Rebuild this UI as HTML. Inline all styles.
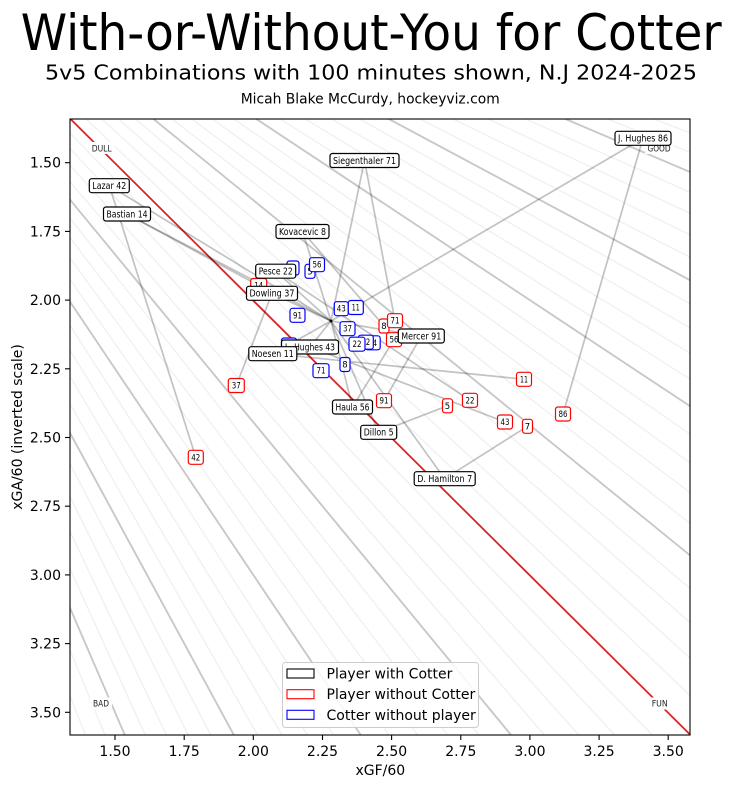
<!DOCTYPE html>
<html><head><meta charset="utf-8"><style>
html,body{margin:0;padding:0;background:#fff;width:732px;height:788px;overflow:hidden;}
svg{display:block;font-family:"DejaVu Sans","Liberation Sans",sans-serif;}
.f line{vector-effect:non-scaling-stroke;stroke:#f0f0f0;stroke-width:1.3;}
.g line{vector-effect:non-scaling-stroke;stroke:#c8c8c8;stroke-width:1.9;}
.c line{stroke:rgba(0,0,0,0.24);stroke-width:1.7;}
.bk rect{fill:#fff;stroke:#000;stroke-width:1.2;}
.rd rect{fill:#fff;stroke:#ff0000;stroke-width:1.2;}
.bl rect{fill:#fff;stroke:#0000ff;stroke-width:1.2;}
.lb text{font-size:9.5px;text-anchor:middle;fill:#000;}
.n text{font-size:8.5px;text-anchor:middle;fill:#000;}
.tk text{font-size:14px;fill:#000;}
</style></head><body>
<svg width="732" height="788" viewBox="0 0 732 788" xmlns="http://www.w3.org/2000/svg">
<rect width="732" height="788" fill="#fff"/>
<text x="20.7" y="50" font-size="50" textLength="701" lengthAdjust="spacingAndGlyphs">With-or-Without-You for Cotter</text>
<text x="45" y="79.3" font-size="20" textLength="652" lengthAdjust="spacingAndGlyphs">5v5 Combinations with 100 minutes shown, N.J 2024-2025</text>
<text x="240.7" y="103.3" font-size="13.9" textLength="259" lengthAdjust="spacingAndGlyphs">Micah Blake McCurdy, hockeyviz.com</text>
<defs><clipPath id="ax"><rect x="70" y="119" width="620" height="616"/></clipPath></defs>
<g clip-path="url(#ax)">
<g transform="matrix(276.6 0 0 274.8 -299.9 -249.5)">
<g class="f">
<line x1="0.467" y1="1.33" x2="1.265" y2="3.6"/>
<line x1="0.492" y1="1.33" x2="1.332" y2="3.6"/>
<line x1="0.517" y1="1.33" x2="1.400" y2="3.6"/>
<line x1="0.543" y1="1.33" x2="1.471" y2="3.6"/>
<line x1="0.598" y1="1.33" x2="1.617" y2="3.6"/>
<line x1="0.626" y1="1.33" x2="1.694" y2="3.6"/>
<line x1="0.655" y1="1.33" x2="1.773" y2="3.6"/>
<line x1="0.685" y1="1.33" x2="1.855" y2="3.6"/>
<line x1="0.748" y1="1.33" x2="2.025" y2="3.6"/>
<line x1="0.781" y1="1.33" x2="2.114" y2="3.6"/>
<line x1="0.815" y1="1.33" x2="2.206" y2="3.6"/>
<line x1="0.850" y1="1.33" x2="2.301" y2="3.6"/>
<line x1="0.924" y1="1.33" x2="2.502" y2="3.6"/>
<line x1="0.963" y1="1.33" x2="2.607" y2="3.6"/>
<line x1="1.003" y1="1.33" x2="2.716" y2="3.6"/>
<line x1="1.045" y1="1.33" x2="2.829" y2="3.6"/>
<line x1="1.133" y1="1.33" x2="3.067" y2="3.6"/>
<line x1="1.179" y1="1.33" x2="3.192" y2="3.6"/>
<line x1="1.228" y1="1.33" x2="3.323" y2="3.6"/>
<line x1="1.278" y1="1.33" x2="3.459" y2="3.6"/>
<line y1="0.467" x1="1.33" y2="1.265" x2="3.6"/>
<line y1="0.492" x1="1.33" y2="1.332" x2="3.6"/>
<line y1="0.517" x1="1.33" y2="1.400" x2="3.6"/>
<line y1="0.543" x1="1.33" y2="1.471" x2="3.6"/>
<line y1="0.598" x1="1.33" y2="1.617" x2="3.6"/>
<line y1="0.626" x1="1.33" y2="1.694" x2="3.6"/>
<line y1="0.655" x1="1.33" y2="1.773" x2="3.6"/>
<line y1="0.685" x1="1.33" y2="1.855" x2="3.6"/>
<line y1="0.748" x1="1.33" y2="2.025" x2="3.6"/>
<line y1="0.781" x1="1.33" y2="2.114" x2="3.6"/>
<line y1="0.815" x1="1.33" y2="2.206" x2="3.6"/>
<line y1="0.850" x1="1.33" y2="2.301" x2="3.6"/>
<line y1="0.924" x1="1.33" y2="2.502" x2="3.6"/>
<line y1="0.963" x1="1.33" y2="2.607" x2="3.6"/>
<line y1="1.003" x1="1.33" y2="2.716" x2="3.6"/>
<line y1="1.045" x1="1.33" y2="2.829" x2="3.6"/>
<line y1="1.133" x1="1.33" y2="3.067" x2="3.6"/>
<line y1="1.179" x1="1.33" y2="3.192" x2="3.6"/>
<line y1="1.228" x1="1.33" y2="3.323" x2="3.6"/>
<line y1="1.278" x1="1.33" y2="3.459" x2="3.6"/>
</g>
<g class="g">
<line x1="0.570" y1="1.33" x2="1.543" y2="3.6"/>
<line x1="0.716" y1="1.33" x2="1.939" y2="3.6"/>
<line x1="0.887" y1="1.33" x2="2.400" y2="3.6"/>
<line x1="1.088" y1="1.33" x2="2.946" y2="3.6"/>
<line y1="1.088" x1="1.33" y2="2.946" x2="3.6"/>
<line y1="0.887" x1="1.33" y2="2.400" x2="3.6"/>
<line y1="0.716" x1="1.33" y2="1.939" x2="3.6"/>
<line y1="0.570" x1="1.33" y2="1.543" x2="3.6"/>
</g>
</g>
<line x1="70" y1="118.5" x2="690" y2="734.5" stroke="#d62728" stroke-width="1.8"/>
<g class="c">
<line x1="643" y1="138.3" x2="331" y2="321"/><line x1="643" y1="138.3" x2="563" y2="414"/>
<line x1="364.5" y1="160.5" x2="331" y2="321"/><line x1="364.5" y1="160.5" x2="395" y2="320.7"/>
<line x1="109.3" y1="185.7" x2="331" y2="321"/><line x1="109.3" y1="185.7" x2="195.8" y2="457.3"/>
<line x1="127" y1="214" x2="331" y2="321"/><line x1="127" y1="214" x2="258.7" y2="285.5"/>
<line x1="302.5" y1="231.5" x2="331" y2="321"/><line x1="302.5" y1="231.5" x2="384" y2="326"/>
<line x1="275.7" y1="271.2" x2="331" y2="321"/><line x1="275.7" y1="271.2" x2="470" y2="400.3"/>
<line x1="272" y1="293.3" x2="331" y2="321"/><line x1="272" y1="293.3" x2="236.3" y2="385.5"/>
<line x1="310" y1="347" x2="331" y2="321"/><line x1="310" y1="347" x2="505" y2="422"/>
<line x1="272.8" y1="353.7" x2="331" y2="321"/><line x1="272.8" y1="353.7" x2="524" y2="379.3"/>
<line x1="421.3" y1="336" x2="331" y2="321"/><line x1="421.3" y1="336" x2="384" y2="400.7"/>
<line x1="352.5" y1="407" x2="331" y2="321"/><line x1="352.5" y1="407" x2="394" y2="339.7"/>
<line x1="378.7" y1="432.3" x2="331" y2="321"/><line x1="378.7" y1="432.3" x2="447.5" y2="405.8"/>
<line x1="444.7" y1="478.7" x2="331" y2="321"/><line x1="444.7" y1="478.7" x2="527.5" y2="426.3"/>
</g>
<circle cx="331" cy="321" r="1.4" fill="#000"/>
<g font-size="9" fill="#222" text-anchor="middle">
<rect x="90" y="142" width="24" height="12" fill="#fff"/><text x="101.7" y="151.7" textLength="20" lengthAdjust="spacingAndGlyphs">DULL</text>
<rect x="645" y="142" width="28" height="12" fill="#fff"/><text x="659" y="151.7" textLength="23" lengthAdjust="spacingAndGlyphs">GOOD</text>
<rect x="90" y="697.5" width="22" height="12" fill="#fff"/><text x="101" y="706.7" textLength="16" lengthAdjust="spacingAndGlyphs">BAD</text>
<rect x="648.5" y="697.5" width="22" height="12" fill="#fff"/><text x="659.7" y="706.7" textLength="16" lengthAdjust="spacingAndGlyphs">FUN</text>
</g>
</g>
<g class="rd n">
<rect x="250.7" y="278.5" width="16" height="14" rx="2.5"/><text x="258.7" y="288.5" textLength="9" lengthAdjust="spacingAndGlyphs">14</text>
<rect x="228.3" y="378.5" width="16" height="14" rx="2.5"/><text x="236.3" y="388.5" textLength="9" lengthAdjust="spacingAndGlyphs">37</text>
<rect x="188.3" y="450.3" width="15" height="14" rx="2.5"/><text x="195.8" y="460.3" textLength="9" lengthAdjust="spacingAndGlyphs">42</text>
<rect x="379" y="319" width="10" height="14" rx="2.5"/><text x="384" y="329">8</text>
<rect x="387.5" y="313.7" width="15" height="14" rx="2.5"/><text x="395" y="323.7" textLength="9" lengthAdjust="spacingAndGlyphs">71</text>
<rect x="386.5" y="332.7" width="15" height="14" rx="2.5"/><text x="394" y="342.7" textLength="9" lengthAdjust="spacingAndGlyphs">56</text>
<rect x="376.5" y="393.7" width="15" height="14" rx="2.5"/><text x="384" y="403.7" textLength="9" lengthAdjust="spacingAndGlyphs">91</text>
<rect x="442.5" y="398.8" width="10" height="14" rx="2.5"/><text x="447.5" y="408.8">5</text>
<rect x="462.5" y="393.3" width="15" height="14" rx="2.5"/><text x="470" y="403.3" textLength="9" lengthAdjust="spacingAndGlyphs">22</text>
<rect x="516.5" y="372.3" width="15" height="14" rx="2.5"/><text x="524" y="382.3" textLength="8" lengthAdjust="spacingAndGlyphs">11</text>
<rect x="497.5" y="415" width="15" height="14" rx="2.5"/><text x="505" y="425" textLength="9" lengthAdjust="spacingAndGlyphs">43</text>
<rect x="522.5" y="419.3" width="10" height="14" rx="2.5"/><text x="527.5" y="429.3">7</text>
<rect x="555.5" y="407" width="15" height="14" rx="2.5"/><text x="563" y="417" textLength="9" lengthAdjust="spacingAndGlyphs">86</text>
</g>
<g class="bl n">
<rect x="287" y="261" width="12" height="14" rx="2.5"/><text x="293" y="271">7</text>
<rect x="305" y="264.3" width="10" height="14" rx="2.5"/><text x="310" y="274.3">5</text>
<rect x="309.5" y="257.7" width="15" height="14" rx="2.5"/><text x="317" y="267.7" textLength="9" lengthAdjust="spacingAndGlyphs">56</text>
<rect x="290" y="308.3" width="15" height="14" rx="2.5"/><text x="297.5" y="318.3" textLength="9" lengthAdjust="spacingAndGlyphs">91</text>
<rect x="334.3" y="301.7" width="14" height="14" rx="2.5"/><text x="341.3" y="311.7" textLength="9" lengthAdjust="spacingAndGlyphs">43</text>
<rect x="348.3" y="300.5" width="15" height="14" rx="2.5"/><text x="355.8" y="310.5" textLength="8" lengthAdjust="spacingAndGlyphs">11</text>
<rect x="340" y="321.7" width="15" height="14" rx="2.5"/><text x="347.5" y="331.7" textLength="9" lengthAdjust="spacingAndGlyphs">37</text>
<rect x="365.2" y="335.8" width="15" height="14" rx="2.5"/><text x="372.7" y="345.8" textLength="9" lengthAdjust="spacingAndGlyphs">14</text>
<rect x="358.3" y="335.2" width="15" height="14" rx="2.5"/><text x="365.8" y="345.2" textLength="9" lengthAdjust="spacingAndGlyphs">42</text>
<rect x="349" y="337.2" width="16" height="14" rx="2.5"/><text x="357" y="347.2" textLength="9" lengthAdjust="spacingAndGlyphs">22</text>
<rect x="281.5" y="338" width="15" height="14" rx="2.5"/><text x="289" y="348" textLength="9" lengthAdjust="spacingAndGlyphs">86</text>
<rect x="313" y="363.7" width="16" height="14" rx="2.5"/><text x="321" y="373.7" textLength="9" lengthAdjust="spacingAndGlyphs">71</text>
<rect x="340" y="357.5" width="10" height="14" rx="2.5"/><text x="345" y="367.5">8</text>
</g>
<g class="bk lb">
<rect x="615" y="131.3" width="56" height="14" rx="2.5"/><text x="643" y="141.6" textLength="50" lengthAdjust="spacingAndGlyphs">J. Hughes 86</text>
<rect x="330" y="153.5" width="69" height="14" rx="2.5"/><text x="364.5" y="163.8" textLength="63" lengthAdjust="spacingAndGlyphs">Siegenthaler 71</text>
<rect x="89.3" y="178.7" width="40" height="14" rx="2.5"/><text x="109.3" y="189" textLength="34" lengthAdjust="spacingAndGlyphs">Lazar 42</text>
<rect x="103.5" y="207" width="47" height="14" rx="2.5"/><text x="127" y="217.3" textLength="41" lengthAdjust="spacingAndGlyphs">Bastian 14</text>
<rect x="276" y="224.5" width="53" height="14" rx="2.5"/><text x="302.5" y="234.8" textLength="47" lengthAdjust="spacingAndGlyphs">Kovacevic 8</text>
<rect x="255.7" y="264.2" width="40" height="14" rx="2.5"/><text x="275.7" y="274.5" textLength="34" lengthAdjust="spacingAndGlyphs">Pesce 22</text>
<rect x="246.5" y="286.3" width="51" height="14" rx="2.5"/><text x="272" y="296.6" textLength="45" lengthAdjust="spacingAndGlyphs">Dowling 37</text>
<rect x="281.5" y="340" width="57" height="14" rx="2.5"/><text x="310" y="350.3" textLength="50" lengthAdjust="spacingAndGlyphs">L. Hughes 43</text>
<rect x="248.8" y="346.7" width="48" height="14" rx="2.5"/><text x="272.8" y="357" textLength="42" lengthAdjust="spacingAndGlyphs">Noesen 11</text>
<rect x="398.3" y="329" width="46" height="14" rx="2.5"/><text x="421.3" y="339.3" textLength="40" lengthAdjust="spacingAndGlyphs">Mercer 91</text>
<rect x="332.5" y="400" width="40" height="14" rx="2.5"/><text x="352.5" y="410.3" textLength="34" lengthAdjust="spacingAndGlyphs">Haula 56</text>
<rect x="360.7" y="425.3" width="36" height="14" rx="2.5"/><text x="378.7" y="435.6" textLength="30" lengthAdjust="spacingAndGlyphs">Dillon 5</text>
<rect x="414.2" y="471.7" width="61" height="14" rx="2.5"/><text x="444.7" y="482" textLength="55" lengthAdjust="spacingAndGlyphs">D. Hamilton 7</text>
</g>
<rect x="70" y="119" width="620" height="616" fill="none" stroke="#000" stroke-width="1.1"/>
<g stroke="#000" stroke-width="1.1">
<line x1="115" y1="735" x2="115" y2="740"/><line x1="184.2" y1="735" x2="184.2" y2="740"/><line x1="253.3" y1="735" x2="253.3" y2="740"/><line x1="322.5" y1="735" x2="322.5" y2="740"/><line x1="391.6" y1="735" x2="391.6" y2="740"/><line x1="460.8" y1="735" x2="460.8" y2="740"/><line x1="529.9" y1="735" x2="529.9" y2="740"/><line x1="599.1" y1="735" x2="599.1" y2="740"/><line x1="668.2" y1="735" x2="668.2" y2="740"/>
<line x1="65" y1="162.7" x2="70" y2="162.7"/><line x1="65" y1="231.4" x2="70" y2="231.4"/><line x1="65" y1="300.1" x2="70" y2="300.1"/><line x1="65" y1="368.8" x2="70" y2="368.8"/><line x1="65" y1="437.5" x2="70" y2="437.5"/><line x1="65" y1="506.2" x2="70" y2="506.2"/><line x1="65" y1="574.9" x2="70" y2="574.9"/><line x1="65" y1="643.6" x2="70" y2="643.6"/><line x1="65" y1="712.3" x2="70" y2="712.3"/>
</g>
<g class="tk" text-anchor="middle">
<text x="115" y="756">1.50</text><text x="184.2" y="756">1.75</text><text x="253.3" y="756">2.00</text><text x="322.5" y="756">2.25</text><text x="391.6" y="756">2.50</text><text x="460.8" y="756">2.75</text><text x="529.9" y="756">3.00</text><text x="599.1" y="756">3.25</text><text x="668.2" y="756">3.50</text>
</g>
<g class="tk" text-anchor="end">
<text x="61" y="167.7">1.50</text><text x="61" y="236.4">1.75</text><text x="61" y="305.1">2.00</text><text x="61" y="373.8">2.25</text><text x="61" y="442.5">2.50</text><text x="61" y="511.2">2.75</text><text x="61" y="579.9">3.00</text><text x="61" y="648.6">3.25</text><text x="61" y="717.3">3.50</text>
</g>
<text x="380.3" y="775" font-size="14" text-anchor="middle">xGF/60</text>
<text transform="translate(22,427) rotate(-90)" font-size="14" text-anchor="middle">xGA/60 (inverted scale)</text>
<rect x="282.5" y="662.5" width="196" height="65" rx="3" fill="#fff" fill-opacity="0.85" stroke="#cccccc" stroke-width="1"/>
<rect x="287" y="669" width="27" height="9" fill="#fff" stroke="#000" stroke-width="1.1"/>
<rect x="287" y="689.7" width="27" height="9" fill="#fff" stroke="#ff0000" stroke-width="1.1"/>
<rect x="287" y="710.3" width="27" height="9" fill="#fff" stroke="#0000ff" stroke-width="1.1"/>
<g font-size="14" fill="#000">
<text x="326.5" y="678.5">Player with Cotter</text>
<text x="326.5" y="699.2">Player without Cotter</text>
<text x="326.5" y="719.8">Cotter without player</text>
</g>
</svg>
</body></html>
